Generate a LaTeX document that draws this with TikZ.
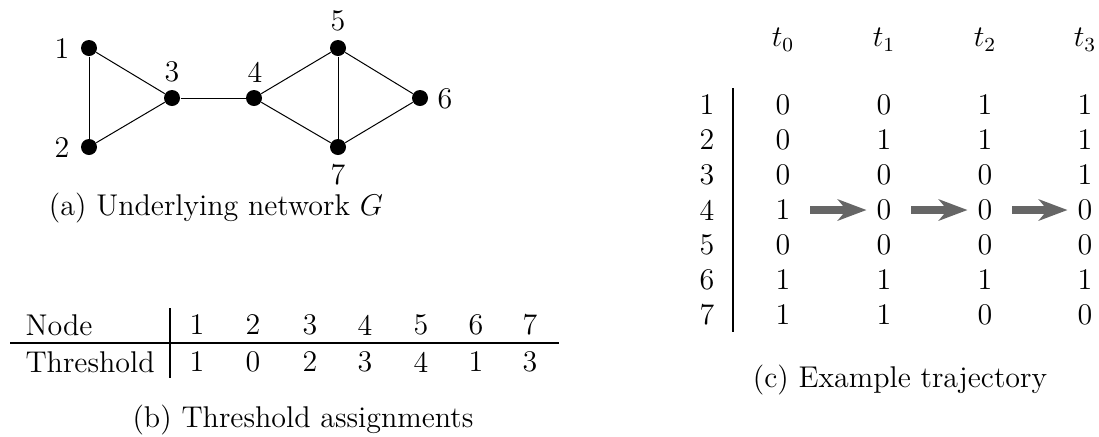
\documentclass[tikz,border=0pt]{standalone}
\usetikzlibrary{arrows.meta}
\begin{document}
\begin{tikzpicture}[x=0.4pt,y=-0.4pt,
  every node/.style={font=\fontsize{12}{14}\selectfont},
  dot/.style={circle,fill=black,inner sep=0pt,minimum size=6.4pt},
  edge/.style={line width=0.4pt},
  lbl/.style={inner sep=0pt},
  cell/.style={inner sep=0pt,anchor=center},
  rule/.style={line width=0.45pt},
  bigarrow/.style={draw=black!60,line width=3.2pt,
    -{Stealth[length=11.5pt,width=8.5pt,inset=3.5pt,fill=black!60]},
    shorten <=10.8pt, shorten >=7pt}]
\useasboundingbox (0,0) rectangle (1099,436);
% (a) graph
\node[dot] (n1) at (89,48) {};
\node[dot] (n2) at (89,147) {};
\node[dot] (n3) at (172,98) {};
\node[dot] (n4) at (254,98) {};
\node[dot] (n5) at (338,48) {};
\node[dot] (n6) at (420,98) {};
\node[dot] (n7) at (338,147) {};
\draw[edge] (n1) -- (n2);
\draw[edge] (n1) -- (n3);
\draw[edge] (n2) -- (n3);
\draw[edge] (n3) -- (n4);
\draw[edge] (n4) -- (n5);
\draw[edge] (n4) -- (n7);
\draw[edge] (n5) -- (n7);
\draw[edge] (n5) -- (n6);
\draw[edge] (n7) -- (n6);
\node[lbl] (l1) at (62,49) {1};
\node[lbl] (l2) at (62,148) {2};
\node[lbl] (l3) at (172,72) {3};
\node[lbl] (l4) at (255,72) {4};
\node[lbl] (l5) at (338,21) {5};
\node[lbl] (l6) at (445,99) {6};
\node[lbl] (l7) at (338,175) {7};
\node[lbl] (capa) at (216,208) {(a) Underlying network $G$};
% (b) threshold table
\node[lbl,anchor=west] (hnode) at (25,325) {Node};
\node[lbl,anchor=west] (hthr) at (25,362) {Threshold};
\coordinate (rl) at (10,343);
\coordinate (rr) at (559,343);
\draw[rule] (rl) -- (rr);
\coordinate (vt) at (170,308);
\coordinate (vb) at (170,378);
\draw[rule] (vt) -- (vb);
\foreach \x/\a/\b [count=\i] in {197/1/1,253/2/0,310/3/2,365/4/3,421/5/4,476/6/1,530/7/3}{
  \node[cell] (bn\i) at (\x,325) {\a};
  \node[cell] (bt\i) at (\x,362) {\b};
}
\node[lbl] (capb) at (303,420) {(b) Threshold assignments};
% (c) trajectory
\foreach \x/\t in {783/0,884/1,985/2,1085/3}{
  \node[cell] (t\t) at (\x,40) {$t_\t$};
}
\coordinate (ct) at (733,88);
\coordinate (cb) at (733,332);
\draw[rule] (ct) -- (cb);
\foreach \r/\a/\b/\c/\d [count=\i] in {1/0/0/1/1,2/0/1/1/1,3/0/0/0/1,4/1/0/0/0,5/0/0/0/0,6/1/1/1/1,7/1/1/0/0}{
  \node[cell] (r\i) at (707,{105+35*(\i-1)}) {\r};
  \node[cell] (v\i0) at (783,{105+35*(\i-1)}) {\a};
  \node[cell] (v\i1) at (884,{105+35*(\i-1)}) {\b};
  \node[cell] (v\i2) at (985,{105+35*(\i-1)}) {\c};
  \node[cell] (v\i3) at (1085,{105+35*(\i-1)}) {\d};
}
\draw[bigarrow] (v40.center) -- (v41.center);
\draw[bigarrow] (v41.center) -- (v42.center);
\draw[bigarrow] (v42.center) -- (v43.center);
\node[lbl] (capc) at (900,380) {(c) Example trajectory};
\end{tikzpicture}
\end{document}
